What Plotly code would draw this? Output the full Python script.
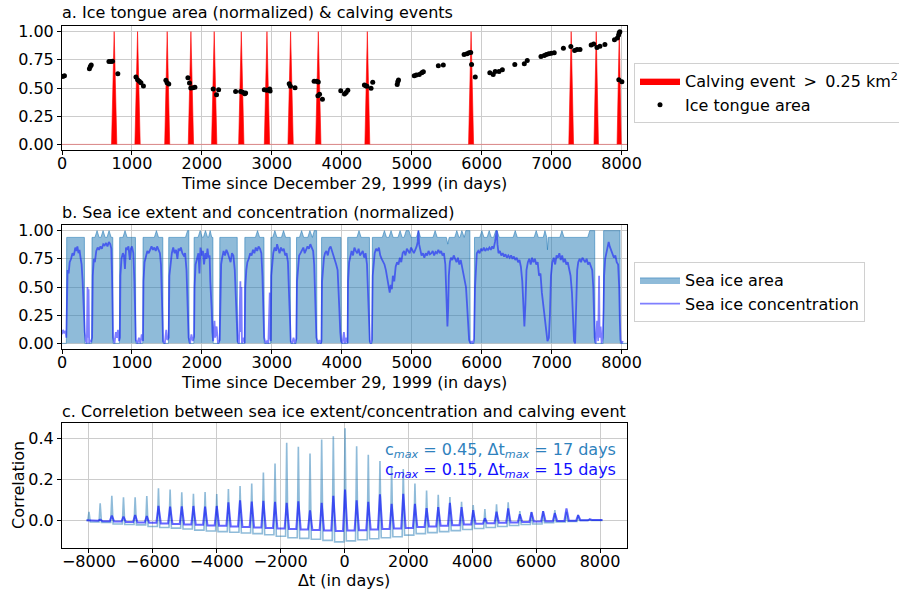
import plotly.graph_objects as go

W, H = 899, 592
FONT = "DejaVu Sans"
FS = 16

# ---------------- Panel a: ice tongue area & calving events ----------------
tongue_day = [10, 35, 392, 405, 418, 671, 700, 722, 798,
              1057, 1080, 1105, 1128, 1164, 1485, 1502, 1526,
              1800, 1823, 1841, 1870, 1900, 2161, 2209, 2239,
              2482, 2553, 2583, 2613, 2625, 2892, 2928, 2969, 2975,
              3248, 3266, 3331, 3604, 3640, 3664, 3658, 3682, 3723,
              3985, 4038, 4062, 4086, 4323, 4341, 4359, 4418, 4442,
              4792, 4800, 4810, 5036, 5065, 5107, 5143, 5166, 5380, 5451,
              5748, 5790, 5819, 5843, 5855, 5908,
              6116, 6164, 6193, 6247, 6295, 6473, 6609, 6651,
              6847, 6894, 6924, 6959, 6995, 7037, 7168,
              7274, 7328, 7363, 7405, 7565, 7601, 7648, 7690, 7761,
              7898, 7940, 7957, 7966, 7975, 7960, 8004]
tongue_area = [0.603, 0.609, 0.670, 0.690, 0.705, 0.735, 0.735, 0.737, 0.626,
               0.597, 0.574, 0.559, 0.547, 0.518, 0.568, 0.547, 0.535,
               0.591, 0.544, 0.500, 0.503, 0.506, 0.491, 0.441, 0.485,
               0.468, 0.470, 0.462, 0.450, 0.456, 0.485, 0.480, 0.491, 0.473,
               0.538, 0.515, 0.503, 0.559, 0.559, 0.553, 0.432, 0.444, 0.400,
               0.476, 0.447, 0.459, 0.479, 0.526, 0.521, 0.515, 0.497, 0.550,
               0.530, 0.555, 0.570, 0.609, 0.615, 0.620, 0.635, 0.644, 0.697, 0.703,
               0.797, 0.803, 0.812, 0.815, 0.709, 0.597,
               0.635, 0.620, 0.647, 0.647, 0.662, 0.709, 0.715, 0.744,
               0.779, 0.788, 0.797, 0.803, 0.809, 0.812, 0.853,
               0.868, 0.832, 0.841, 0.841, 0.882, 0.891, 0.859, 0.871, 0.885,
               0.929, 0.944, 0.970, 0.990, 1.000, 0.574, 0.556]

calving_day = [746, 1080, 1504, 1843, 2176, 2563, 2930, 3268, 3664, 4365, 5848, 7279, 7637, 7966]
calving_start = [708, 1042, 1468, 1805, 2138, 2525, 2892, 3230, 3626, 4330, 5812, 7245, 7605, 7935]
calving_end = [784, 1118, 1540, 1881, 2214, 2601, 2968, 3306, 3702, 4400, 5884, 7313, 7669, 7995]
calving_peak = [1.0] * len(calving_day)

# ---------------- Panel b: sea ice area & concentration ----------------
area_day = ([0, 62, 67, 320, 324] +
            [425, 429, 471, 501, 531, 557, 587, 617, 643, 673, 703, 726, 730] +
            [821, 825, 871, 901, 931, 1050, 1054] +
            [1155, 1159, 1320, 1350, 1380, 1441, 1445] +
            [1522, 1526, 1765, 1795, 1813, 1817] +
            [1885, 1889, 1945, 1975, 2005, 2021, 2051, 2081, 2095, 2118, 2141, 2157, 2161] +
            [2252, 2256, 2505, 2509] +
            [2610, 2614, 2765, 2795, 2825, 2887, 2891] +
            [2982, 2986, 3013, 3043, 3073, 3137, 3167, 3197, 3263, 3267] +
            [3349, 3353, 3395, 3425, 3455, 3514, 3544, 3574, 3580, 3606, 3640, 3644] +
            [3707, 3711, 3988, 3992] +
            [4080, 4084, 4216, 4246, 4276, 4395, 4399] +
            [4433, 4437, 4579, 4609, 4639, 4674, 4704, 4734, 4803, 4833, 4863, 4890, 4920, 4960, 4990,
             5066, 5096, 5126, 5304, 5334, 5364, 5495, 5515, 5535, 5614, 5644, 5674, 5690, 5716, 5742,
             5750, 5773, 5831, 5835] +
            [5893, 5897, 5972, 6002, 6032, 6077, 6107, 6137, 6170, 6200, 6220, 6250, 6449, 6479, 6509,
             6749, 6779, 6809, 6880, 6904, 6922, 6930, 6940, 6952, 7117, 7147, 7177, 7515, 7545, 7615, 7620] +
            [7739, 7743, 7977, 7981, 8077])
area_val = ([0, 0, 0.94, 0.94, 0] +
            [0, 0.94, 0.94, 1.0, 0.94, 0.94, 1.0, 0.94, 0.94, 1.0, 0.94, 0.94, 0] +
            [0, 0.94, 0.94, 1.0, 0.94, 0.94, 0] +
            [0, 0.94, 0.94, 1.0, 0.94, 0.94, 0] +
            [0, 0.94, 0.94, 1.0, 1.0, 0] +
            [0, 0.94, 0.94, 1.0, 0.94, 0.94, 1.0, 0.94, 0.94, 1.0, 0.94, 0.94, 0] +
            [0, 0.94, 0.94, 0] +
            [0, 0.94, 0.94, 1.0, 0.94, 0.94, 0] +
            [0, 0.94, 0.94, 1.0, 0.94, 0.94, 1.0, 0.94, 0.94, 0] +
            [0, 0.94, 0.94, 1.0, 0.94, 0.94, 1.0, 0.94, 0.94, 1.0, 1.0, 0] +
            [0, 0.94, 0.94, 0] +
            [0, 0.94, 0.94, 1.0, 0.94, 0.94, 0] +
            [0, 0.94, 0.94, 1.0, 0.94, 0.94, 1.0, 0.94, 0.94, 1.0, 0.94, 0.94, 1.0, 1.0, 0.94,
             0.94, 1.0, 0.94, 0.94, 1.0, 0.94, 0.94, 0.88, 0.94, 0.94, 1.0, 0.94, 0.94, 1.0, 0.94,
             0.94, 1.0, 1.0, 0] +
            [0, 0.94, 0.94, 1.0, 0.94, 0.94, 1.0, 0.94, 0.94, 1.0, 1.0, 0.94, 0.94, 1.0, 0.94,
             0.94, 1.0, 0.94, 0.94, 1.0, 0.94, 0.94, 0.83, 0.94, 0.94, 1.0, 0.94, 0.94, 1.0, 1.0, 0] +
            [0, 1.0, 1.0, 0, 0])

conc_day = ([0, 15, 30, 50, 62, 70, 80, 95, 110, 130, 150, 170, 190, 205, 220, 235, 250, 265, 280, 295,
             310, 325, 340, 355, 365, 372, 380, 388, 400, 415, 430] +
            [440, 455, 470, 490, 510, 530, 550, 570, 590, 610, 630, 650, 670, 690, 705, 715, 722, 730,
             750, 770, 785, 800, 815, 828] +
            [835, 850, 870, 885, 900, 915, 930, 950, 970, 985, 1000, 1020, 1035, 1045, 1055, 1080,
             1100, 1120, 1140, 1158] +
            [1165, 1180, 1200, 1220, 1240, 1260, 1280, 1300, 1320, 1340, 1360, 1380, 1400, 1415, 1425,
             1435, 1445, 1470, 1490, 1505, 1525] +
            [1535, 1550, 1570, 1590, 1610, 1630, 1650, 1665, 1680, 1700, 1720, 1740, 1760, 1780, 1795,
             1810, 1830, 1850, 1870, 1888] +
            [1895, 1910, 1930, 1950, 1965, 1980, 2000, 2015, 2030, 2050, 2065, 2080, 2095, 2110, 2120,
             2130, 2140, 2150, 2160, 2180, 2190, 2210, 2230, 2255] +
            [2262, 2275, 2290, 2310, 2330, 2350, 2370, 2390, 2410, 2430, 2450, 2470, 2485, 2500, 2510,
             2530, 2545, 2550, 2555, 2565, 2572, 2590, 2612] +
            [2620, 2635, 2650, 2670, 2690, 2710, 2730, 2750, 2770, 2790, 2810, 2830, 2850, 2865, 2878,
             2890, 2910, 2930, 2950, 2970, 2975, 2985] +
            [2992, 3005, 3020, 3040, 3060, 3075, 3090, 3110, 3130, 3150, 3170, 3190, 3210, 3230, 3245,
             3258, 3270, 3290, 3310, 3330, 3350] +
            [3360, 3375, 3390, 3410, 3430, 3450, 3470, 3490, 3510, 3530, 3550, 3570, 3590, 3605, 3615,
             3625, 3637, 3660, 3680, 3700, 3710] +
            [3718, 3730, 3745, 3760, 3780, 3800, 3820, 3840, 3860, 3880, 3900, 3920, 3940, 3955, 3965,
             3978, 3990, 4010, 4030, 4045, 4065, 4083] +
            [4090, 4105, 4120, 4140, 4160, 4180, 4200, 4220, 4240, 4260, 4280, 4300, 4320, 4340, 4360,
             4375, 4388, 4400, 4415, 4430] +
            [4442, 4455, 4470, 4490, 4510, 4530, 4550, 4570, 4590, 4610, 4630, 4650, 4670, 4685, 4700,
             4715, 4730, 4750, 4770, 4790, 4810, 4830, 4850, 4870, 4890, 4910, 4930, 4950, 4970, 4990,
             5010, 5030, 5050, 5070, 5085, 5095, 5105, 5120, 5140, 5160, 5180, 5200, 5220, 5240, 5260,
             5280, 5300, 5320, 5340, 5360, 5380, 5400, 5420, 5440, 5460, 5480, 5495, 5510, 5520, 5530,
             5545, 5560, 5580, 5600, 5620, 5640, 5660, 5680, 5700, 5720, 5740, 5760, 5775, 5790, 5805,
             5820, 5840, 5860, 5875, 5890] +
            [5905, 5915, 5930, 5950, 5970, 5990, 6010, 6030, 6050, 6070, 6090, 6110, 6130, 6150, 6170,
             6190, 6205, 6215, 6225, 6240, 6260, 6280, 6300, 6320, 6340, 6360, 6380, 6400, 6420, 6440,
             6460, 6480, 6500, 6520, 6540, 6560, 6580, 6595, 6610, 6625, 6640, 6660, 6680, 6700, 6720,
             6740, 6760, 6780, 6800, 6820, 6840, 6860, 6880, 6900, 6920, 6940, 6960, 6975, 6990, 7010,
             7030, 7050, 7070, 7090, 7110, 7130, 7150, 7170, 7190, 7210, 7230, 7250, 7270, 7290, 7305,
             7320, 7335, 7350, 7365, 7380, 7400, 7420, 7440, 7460, 7480, 7500, 7520, 7540, 7560, 7580,
             7595, 7605, 7615, 7630, 7650, 7665, 7678, 7685, 7700, 7715, 7730, 7742] +
            [7750, 7765, 7780, 7800, 7815, 7830, 7850, 7870, 7890, 7910, 7930, 7950, 7965, 7975, 7985,
             8000, 8020])
conc_val = ([0.08, 0.12, 0.09, 0.11, 0.05, 0.55, 0.65, 0.62, 0.72, 0.75, 0.80, 0.78, 0.85, 0.82, 0.86,
             0.80, 0.83, 0.76, 0.70, 0.55, 0.30, 0.10, 0.02, 0.00, 0.50, 0.05, 0.48, 0.00, 0.03, 0.01, 0.05] +
            [0.60, 0.75, 0.72, 0.82, 0.85, 0.83, 0.86, 0.84, 0.88, 0.87, 0.89, 0.86, 0.90, 0.88, 0.84,
             0.60, 0.30, 0.05, 0.00, 0.10, 0.05, 0.12, 0.02, 0.05] +
            [0.60, 0.75, 0.80, 0.78, 0.66, 0.85, 0.83, 0.86, 0.74, 0.84, 0.86, 0.80, 0.55, 0.20, 0.03,
             0.00, 0.05, 0.00, 0.08, 0.02] +
            [0.55, 0.72, 0.78, 0.82, 0.80, 0.84, 0.86, 0.83, 0.85, 0.82, 0.86, 0.83, 0.80, 0.70, 0.45,
             0.10, 0.02, 0.00, 0.12, 0.03, 0.05] +
            [0.60, 0.72, 0.80, 0.85, 0.80, 0.83, 0.75, 0.84, 0.82, 0.85, 0.80, 0.78, 0.80, 0.65, 0.30,
             0.05, 0.00, 0.08, 0.02, 0.06] +
            [0.50, 0.70, 0.75, 0.80, 0.62, 0.85, 0.78, 0.82, 0.70, 0.80, 0.75, 0.84, 0.76, 0.78, 0.55,
             0.45, 0.30, 0.10, 0.02, 0.20, 0.05, 0.15, 0.00, 0.03] +
            [0.50, 0.70, 0.76, 0.82, 0.78, 0.83, 0.80, 0.76, 0.72, 0.80, 0.78, 0.65, 0.40, 0.15, 0.02,
             0.00, 0.30, 0.55, 0.10, 0.50, 0.00, 0.05, 0.00] +
            [0.50, 0.65, 0.72, 0.75, 0.80, 0.78, 0.83, 0.80, 0.85, 0.82, 0.86, 0.84, 0.80, 0.60, 0.30,
             0.05, 0.00, 0.02, 0.00, 0.45, 0.05, 0.02] +
            [0.60, 0.75, 0.80, 0.85, 0.82, 0.88, 0.84, 0.80, 0.85, 0.82, 0.84, 0.78, 0.80, 0.72, 0.45,
             0.15, 0.02, 0.00, 0.05, 0.00, 0.04] +
            [0.55, 0.70, 0.78, 0.80, 0.82, 0.85, 0.80, 0.83, 0.86, 0.84, 0.88, 0.85, 0.82, 0.70, 0.50,
             0.25, 0.05, 0.00, 0.03, 0.00, 0.02] +
            [0.55, 0.70, 0.76, 0.80, 0.82, 0.78, 0.84, 0.86, 0.82, 0.80, 0.76, 0.70, 0.65, 0.50, 0.30,
             0.10, 0.02, 0.00, 0.10, 0.00, 0.05, 0.00] +
            [0.55, 0.72, 0.78, 0.82, 0.78, 0.85, 0.82, 0.80, 0.84, 0.78, 0.80, 0.82, 0.76, 0.80, 0.70,
             0.45, 0.15, 0.02, 0.00, 0.03] +
            [0.60, 0.75, 0.80, 0.84, 0.82, 0.85, 0.78, 0.75, 0.72, 0.70, 0.65, 0.58, 0.50, 0.45, 0.52,
             0.48, 0.60, 0.55, 0.68, 0.72, 0.70, 0.76, 0.72, 0.80, 0.82, 0.78, 0.84, 0.82, 0.80, 0.85,
             0.82, 0.80, 0.83, 0.86, 0.90, 1.00, 0.88, 0.82, 0.78, 0.80, 0.76, 0.80, 0.78, 0.82, 0.79,
             0.80, 0.82, 0.78, 0.81, 0.80, 0.83, 0.80, 0.82, 0.78, 0.80, 0.70, 0.45, 0.15, 0.30, 0.60,
             0.72, 0.76, 0.74, 0.78, 0.75, 0.72, 0.76, 0.70, 0.74, 0.68, 0.62, 0.55, 0.50, 0.35, 0.15,
             0.03, 0.00, 0.02, 0.00, 0.04] +
            [0.50, 0.70, 0.80, 0.82, 0.80, 0.84, 0.82, 0.85, 0.82, 0.84, 0.83, 0.85, 0.83, 0.86, 0.84,
             0.90, 1.00, 1.00, 0.88, 0.80, 0.82, 0.78, 0.80, 0.77, 0.79, 0.76, 0.78, 0.76, 0.78, 0.75,
             0.77, 0.74, 0.76, 0.72, 0.74, 0.68, 0.55, 0.30, 0.15, 0.35, 0.65, 0.72, 0.75, 0.70, 0.76,
             0.72, 0.75, 0.70, 0.72, 0.60, 0.62, 0.45, 0.35, 0.20, 0.10, 0.02, 0.05, 0.25, 0.60, 0.72,
             0.76, 0.70, 0.78, 0.76, 0.80, 0.74, 0.78, 0.72, 0.75, 0.70, 0.72, 0.65, 0.60, 0.45, 0.20,
             0.02, 0.00, 0.30, 0.65, 0.72, 0.75, 0.72, 0.76, 0.74, 0.72, 0.75, 0.70, 0.72, 0.68, 0.65,
             0.50, 0.25, 0.05, 0.00, 0.20, 0.02, 0.60, 0.05, 0.15, 0.00, 0.05, 0.30] +
            [0.60, 0.75, 0.80, 0.85, 0.90, 0.86, 0.82, 0.80, 0.76, 0.78, 0.72, 0.70, 0.50, 0.20, 0.03,
             0.00, 0.02])

# ---------------- Panel c: correlation vs lag ----------------
lag_range = [-8077, 8077]
spike_lag = [-8000, -7650, -7285, -6920, -6555, -6190, -5825, -5460, -5095, -4730, -4365,
             -4000, -3635, -3270, -2905, -2540, -2175, -1810, -1445, -1080, -715, -350,
             17, 380, 745, 1110, 1475, 1840, 2205, 2570, 2935, 3300, 3665, 4030, 4395,
             4760, 5125, 5490, 5855, 6220, 6585, 6950, 7315, 7680]
area_peak = [0.042, 0.083, 0.120, 0.113, 0.112, 0.119, 0.156, 0.150, 0.137, 0.130, 0.138,
             0.128, 0.153, 0.167, 0.180, 0.233, 0.277, 0.378, 0.359, 0.326, 0.395, 0.410,
             0.449, 0.362, 0.320, 0.290, 0.260, 0.250, 0.180, 0.145, 0.125, 0.114, 0.090,
             0.075, 0.055, 0.078, 0.088, 0.045, 0.042, 0.045, 0.050, 0.042, 0.026, 0.005]
area_base = [-0.008, -0.010, -0.018, -0.020, -0.022, -0.030, -0.035, -0.038, -0.042, -0.048, -0.052,
             -0.055, -0.058, -0.062, -0.065, -0.070, -0.078, -0.085, -0.088, -0.092, -0.098, -0.105,
             -0.100, -0.095, -0.090, -0.085, -0.080, -0.072, -0.065, -0.060, -0.055, -0.050, -0.045,
             -0.040, -0.035, -0.030, -0.025, -0.020, -0.018, -0.012, -0.008, -0.005, 0.000, 0.000]
conc_peak = [0.000, 0.003, 0.023, 0.018, 0.026, 0.021, 0.070, 0.067, 0.068, 0.070, 0.067,
             0.070, 0.088, 0.098, 0.091, 0.095, 0.090, 0.085, 0.093, 0.049, 0.085, 0.120,
             0.150, 0.098, 0.090, 0.127, 0.080, 0.130, 0.080, 0.060, 0.065, 0.085, 0.065,
             0.050, 0.010, 0.042, 0.058, 0.030, 0.040, 0.045, 0.035, 0.058, 0.025, 0.005]
conc_base = [-0.002, -0.004, -0.006, -0.008, -0.010, -0.012, -0.015, -0.018, -0.020, -0.022, -0.025,
             -0.027, -0.030, -0.032, -0.035, -0.037, -0.040, -0.042, -0.045, -0.047, -0.050, -0.052,
             -0.050, -0.048, -0.045, -0.042, -0.040, -0.037, -0.033, -0.030, -0.027, -0.024, -0.020,
             -0.017, -0.014, -0.012, -0.010, -0.008, -0.006, -0.004, -0.003, -0.002, 0.000, 0.002]

x_ticks_ab = [0, 1000, 2000, 3000, 4000, 5000, 6000, 7000, 8000]
y_ticks_ab = [0.0, 0.25, 0.5, 0.75, 1.0]
x_ticks_c = [-8000, -6000, -4000, -2000, 0, 2000, 4000, 6000, 8000]
y_ticks_c = [0.0, 0.2, 0.4]


def spike_path(lags, peaks, bases, w_up, w_dn, start_val):
    xs, ys = [lag_range[0]], [start_val]
    prev = start_val
    for lg, pk, bs in zip(lags, peaks, bases):
        xs += [lg - w_up, lg, lg + w_dn]
        ys += [prev, pk, bs]
        prev = bs
    xs.append(lag_range[1])
    ys.append(prev)
    return xs, ys


fig = go.Figure()

# panel a
fig.add_trace(go.Scatter(x=[0, 8077], y=[0, 0], mode="lines",
                         line=dict(color="rgba(255,0,0,0.35)", width=1),
                         showlegend=False, hoverinfo="skip", xaxis="x", yaxis="y"))
cx, cy = [], []
for s, p, e, pk in zip(calving_start, calving_day, calving_end, calving_peak):
    cx += [s, p, e, None]
    cy += [0, pk, 0, None]
fig.add_trace(go.Scatter(x=cx, y=cy, mode="lines", fill="toself", fillcolor="red",
                         line=dict(color="red", width=0.6),
                         name="Calving event\u2009 > \u20090.25 km<sup>2</sup>", legend="legend",
                         xaxis="x", yaxis="y"))
fig.add_trace(go.Scatter(x=tongue_day, y=tongue_area, mode="markers",
                         marker=dict(color="black", size=5),
                         name="Ice tongue area", legend="legend", xaxis="x", yaxis="y"))

# panel b
fig.add_trace(go.Scatter(x=area_day, y=area_val, mode="lines", fill="tozeroy",
                         fillcolor="rgba(31,119,180,0.5)",
                         line=dict(color="rgba(31,119,180,0.55)", width=1),
                         name="Sea ice area", legend="legend2", xaxis="x2", yaxis="y2"))
fig.add_trace(go.Scatter(x=conc_day, y=conc_val, mode="lines",
                         line=dict(color="rgba(0,0,255,0.5)", width=1.8),
                         name="Sea ice concentration", legend="legend2", xaxis="x2", yaxis="y2"))

# panel c
ax_, ay_ = spike_path(spike_lag, area_peak, area_base, 35, 40, 0.0)
fig.add_trace(go.Scatter(x=ax_, y=ay_, mode="lines",
                         line=dict(color="rgba(31,119,180,0.5)", width=1.6),
                         showlegend=False, xaxis="x3", yaxis="y3"))
bx_, by_ = spike_path(spike_lag, conc_peak, conc_base, 65, 75, 0.0)
fig.add_trace(go.Scatter(x=bx_, y=by_, mode="lines",
                         line=dict(color="rgba(0,0,255,0.6)", width=2),
                         showlegend=False, xaxis="x3", yaxis="y3"))

axis_common = dict(showline=True, mirror=True, linecolor="black", linewidth=1,
                   ticks="outside", ticklen=4, tickwidth=1, tickcolor="black",
                   showgrid=True, gridcolor="#cccccc", gridwidth=1, zeroline=False,
                   tickfont=dict(family=FONT, size=FS, color="black"))
xdom = [62 / W, 627 / W]
XSTAND = -5


def ydom(top, bottom):
    return [1 - bottom / H, 1 - top / H]


fig.update_layout(
    width=W, height=H,
    margin=dict(l=0, r=0, t=0, b=0, autoexpand=False),
    paper_bgcolor="white", plot_bgcolor="white",
    font=dict(family=FONT, size=FS, color="black"),
    xaxis=dict(domain=xdom, range=[0, 8077], tickvals=x_ticks_ab, anchor="y",
               ticklabelstandoff=XSTAND, **axis_common),
    yaxis=dict(domain=ydom(26, 150), range=[-0.05, 1.05], tickvals=y_ticks_ab,
               tickformat=".2f", anchor="x", **axis_common),
    xaxis2=dict(domain=xdom, range=[0, 8077], tickvals=x_ticks_ab, anchor="y2",
                ticklabelstandoff=XSTAND, **axis_common),
    yaxis2=dict(domain=ydom(225, 349), range=[-0.05, 1.05], tickvals=y_ticks_ab,
                tickformat=".2f", anchor="x2", **axis_common),
    xaxis3=dict(domain=xdom, range=[-8845, 8845], tickvals=x_ticks_c, anchor="y3",
                ticklabelstandoff=XSTAND, **axis_common),
    yaxis3=dict(domain=ydom(423, 548), range=[-0.135, 0.475], tickvals=y_ticks_c,
                tickformat=".1f", anchor="x3", **axis_common),
    legend=dict(x=634 / W, y=1 - 63 / H, xanchor="left", yanchor="top", bgcolor="white",
                bordercolor="#d0d0d0", borderwidth=1, itemwidth=40,
                font=dict(family=FONT, size=FS, color="black")),
    legend2=dict(x=634 / W, y=1 - 262 / H, xanchor="left", yanchor="top", bgcolor="white",
                 bordercolor="#d0d0d0", borderwidth=1, itemwidth=40,
                 font=dict(family=FONT, size=FS, color="black")),
)


def ann(text, x, y, xanchor="left", yanchor="middle", color="black", size=FS, angle=0):
    fig.add_annotation(text=text, x=x / W, y=1 - y / H, xref="paper", yref="paper",
                       xanchor=xanchor, yanchor=yanchor, showarrow=False, textangle=angle,
                       font=dict(family=FONT, size=size, color=color))


ann("a. Ice tongue area (normalized) & calving events", 60, 13)
ann("b. Sea ice extent and concentration (normalized)", 60, 212)
ann("c. Correletion between sea ice extent/concentration and calving event", 60, 411)
ann("Time since December 29, 1999 (in days)", 344, 184, xanchor="center")
ann("Time since December 29, 1999 (in days)", 344, 382, xanchor="center")
ann("Δt (in days)", 344, 580, xanchor="center")
ann("Correlation", 18, 485, xanchor="center", angle=-90)
ann("c<sub><i>max</i></sub> = 0.45, Δt<sub><i>max</i></sub> = 17 days", 618, 450,
    xanchor="right", color="#2f82bd", size=FS)
ann("c<sub><i>max</i></sub> = 0.15, Δt<sub><i>max</i></sub> = 15 days", 618, 470,
    xanchor="right", color="#1010ff", size=FS)

fig.write_html("out.html", config={"displayModeBar": False},
               post_script="document.body.style.margin='0px';")
